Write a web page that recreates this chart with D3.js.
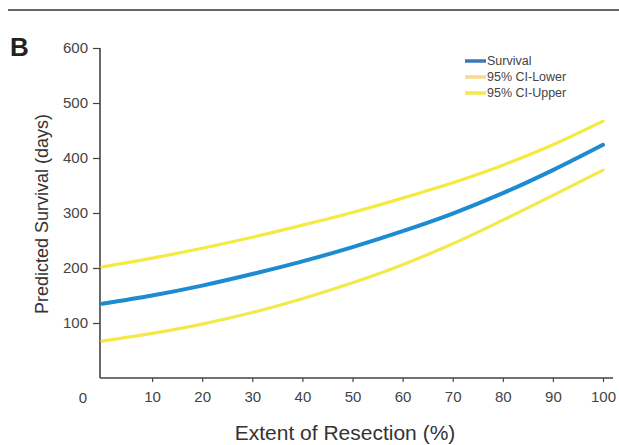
<!DOCTYPE html>
<html>
<head>
<meta charset="utf-8">
<script src="https://cdn.jsdelivr.net/npm/d3@7"></script>
<style>
  body { margin: 0; background: #fff; }
  text { font-family: "Liberation Sans Narrow", "Arial Narrow", "Liberation Sans", sans-serif; }
</style>
</head>
<body>
<div id="container"></div>
<script>
// data
const resection = [0, 10, 20, 30, 40, 50, 60, 70, 80, 90, 100];
const survival  = [135, 150, 168, 189, 212, 238, 267, 299, 336, 378, 424];
const ciLower   = [67, 81, 98, 119, 144, 173, 206, 244, 287, 332, 378];
const ciUpper   = [202, 218, 236, 256, 278, 301, 327, 355, 387, 424, 467];
const seriesNames = ["Survival", "95% CI-Lower", "95% CI-Upper"];
const xTicks = [10, 20, 30, 40, 50, 60, 70, 80, 90, 100];
const yTicks = [100, 200, 300, 400, 500, 600];

const width = 619;
const height = 445;
const colors = ["#1d8bd1", "#f4e84a", "#f4ea40"];
const legendColors = ["#3b78b4", "#fbd98e", "#f4e84a"];

const svg = d3.select("#container")
  .append("svg")
  .attr("width", width)
  .attr("height", height);

// scales
const xScale = d3.scaleLinear().domain([0, 100]).range([102, 603]);
const yScale = d3.scaleLinear().domain([0, 600]).range([378, 48]);

// rule at top of page
svg.append("line")
  .attr("x1", 8).attr("x2", width)
  .attr("y1", 10).attr("y2", 10)
  .attr("stroke", "#333").attr("stroke-width", 1.5);

// panel letter
svg.append("text")
  .attr("x", 10).attr("y", 56)
  .style("font-family", "Liberation Sans, Arial, sans-serif")
  .style("font-size", "26px")
  .style("font-weight", "bold")
  .attr("fill", "#222")
  .text("B");

// y axis
const yAxis = svg.append("g")
  .attr("transform", "translate(100,0)")
  .call(d3.axisLeft(yScale).tickValues(yTicks).tickSize(7).tickPadding(5));
yAxis.select(".domain").attr("d", "M0,48V378").attr("stroke", "#444").attr("stroke-width", 1.6);
yAxis.selectAll(".tick line").attr("stroke", "#444").attr("stroke-width", 1.2);
yAxis.selectAll(".tick text").style("font-size", "15px").attr("fill", "#444");

// x axis
const xAxis = svg.append("g")
  .attr("transform", "translate(0,378)")
  .call(d3.axisBottom(xScale).tickValues(xTicks).tickSize(4).tickPadding(9));
xAxis.select(".domain").attr("d", "M100,0H613").attr("stroke", "#444").attr("stroke-width", 1.6);
xAxis.selectAll(".tick line").attr("stroke", "#444").attr("stroke-width", 1.2);
xAxis.selectAll(".tick text").style("font-size", "15px").attr("fill", "#444");

// the "0" sits left of the origin
svg.append("text")
  .attr("x", xScale(0) - 19).attr("y", 398)
  .attr("text-anchor", "middle")
  .attr("dy", "0.32em")
  .style("font-size", "15px")
  .attr("fill", "#444")
  .text("0");

// axis titles
svg.append("text")
  .attr("transform", "translate(48,214) rotate(-90)")
  .attr("text-anchor", "middle")
  .style("font-size", "18px")
  .attr("fill", "#333")
  .text("Predicted Survival (days)");

svg.append("text")
  .attr("x", 345).attr("y", 440)
  .attr("text-anchor", "middle")
  .style("font-size", "21px")
  .attr("fill", "#333")
  .text("Extent of Resection (%)");

// lines
const line = d3.line()
  .x((d, i) => xScale(resection[i]))
  .y(d => yScale(d))
  .curve(d3.curveMonotoneX);

const series = [survival, ciLower, ciUpper];
const widths = [4, 3.2, 3.2];

// draw CI lines first, survival on top
[1, 2, 0].forEach(k => {
  svg.append("path")
    .datum(series[k])
    .attr("fill", "none")
    .attr("stroke", colors[k])
    .attr("stroke-width", widths[k])
    .attr("stroke-linecap", "round")
    .attr("d", line);
});

// legend
const legend = svg.append("g").attr("transform", "translate(465,61)");
seriesNames.forEach((name, i) => {
  const row = legend.append("g").attr("transform", `translate(0,${i * 16})`);
  row.append("line")
    .attr("x1", 0).attr("x2", 21)
    .attr("y1", 0).attr("y2", 0)
    .attr("stroke", legendColors[i])
    .attr("stroke-width", 3.5);
  row.append("text")
    .attr("x", 22).attr("dy", "0.35em")
    .style("font-size", "12.5px")
    .attr("fill", "#444")
    .text(name);
});
</script>
</body>
</html>
